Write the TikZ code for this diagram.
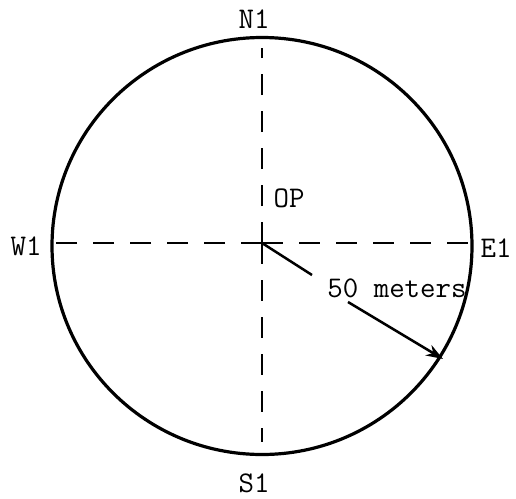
\documentclass[tikz,border=0pt]{standalone}
\usetikzlibrary{arrows.meta}
\begin{document}
\begin{tikzpicture}[x=1pt,y=-1pt,
  lbl/.style={font=\fontsize{30}{32}\selectfont\ttfamily, inner sep=0pt, anchor=base},
  axis/.style={line width=2.5pt, dash pattern=on 21pt off 16pt},
  rim/.style={line width=3.2pt}]
\useasboundingbox (0,0) rectangle (516,498);
\coordinate (O) at (262,243);
\draw[rim] (262,246) ellipse [x radius=210, y radius=208.5];
\coordinate (n) at (262,48);
\coordinate (s) at (262,442);
\coordinate (w) at (53,243);
\coordinate (e) at (470,243);
\draw[axis] (O) -- (n);
\draw[axis] (O) -- (s);
\draw[axis] (O) -- (w);
\draw[axis] (O) -- (e);
\node[lbl] (N1) at (254,28) {N1};
\node[lbl] (S1) at (254,492) {S1};
\node[lbl] (W1) at (26,255) {W1};
\node[lbl] (E1) at (496,257) {E1};
\node[lbl] (OP) at (289,207) {OP};
\node[lbl] (m) at (397,297) {50 meters};
\coordinate (a1) at (312,275);
\coordinate (a2) at (348,302);
\coordinate (tip) at (443,359);
\draw[line width=2.5pt] (O) -- (a1);
\draw[line width=2.5pt, -{Stealth[length=17pt,width=12pt]}] (a2) -- (tip);
\end{tikzpicture}
\end{document}
